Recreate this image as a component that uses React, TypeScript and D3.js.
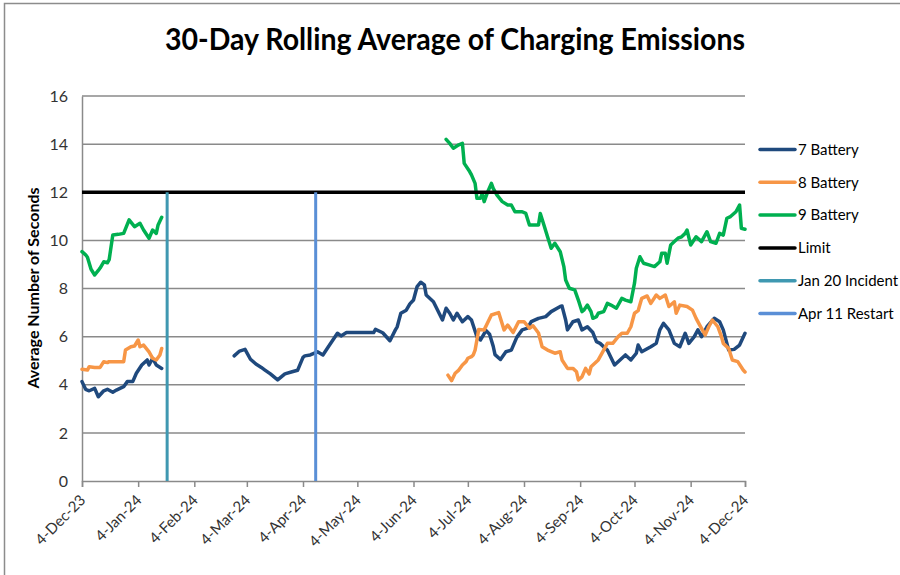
import { useEffect, useRef } from 'react';
import * as d3 from 'd3';

type Pt = [string, number | null];

// x-axis tick labels (the 4th of each month)
const xTickLabels = [
	'4-Dec-23', '4-Jan-24', '4-Feb-24', '4-Mar-24', '4-Apr-24', '4-May-24', '4-Jun-24',
	'4-Jul-24', '4-Aug-24', '4-Sep-24', '4-Oct-24', '4-Nov-24', '4-Dec-24',
];
const yTicks = [0, 2, 4, 6, 8, 10, 12, 14, 16];

const battery7: Pt[] = [
	['2023-12-04', 4.13], ['2023-12-06', 3.81], ['2023-12-08', 3.75], ['2023-12-11', 3.85],
	['2023-12-13', 3.5], ['2023-12-16', 3.75], ['2023-12-18', 3.81], ['2023-12-21', 3.69],
	['2023-12-23', 3.78], ['2023-12-27', 3.92], ['2023-12-29', 4.13], ['2024-01-01', 4.13],
	['2024-01-03', 4.48], ['2024-01-06', 4.82], ['2024-01-09', 5.03], ['2024-01-10', 4.82],
	['2024-01-12', 5.1], ['2024-01-14', 4.82], ['2024-01-17', 4.68],
	['2024-01-18', null],
	['2024-02-26', 5.2], ['2024-02-29', 5.4], ['2024-03-03', 5.47], ['2024-03-06', 5.06],
	['2024-03-09', 4.86], ['2024-03-12', 4.72], ['2024-03-14', 4.61], ['2024-03-17', 4.45],
	['2024-03-21', 4.2], ['2024-03-25', 4.45], ['2024-03-29', 4.54], ['2024-04-01', 4.6],
	['2024-04-04', 5.14], ['2024-04-05', 5.2], ['2024-04-08', 5.24], ['2024-04-12', 5.37],
	['2024-04-15', 5.24], ['2024-04-18', 5.58], ['2024-04-23', 6.14], ['2024-04-25', 6.03],
	['2024-04-28', 6.17], ['2024-05-13', 6.17], ['2024-05-14', 6.3], ['2024-05-18', 6.16],
	['2024-05-22', 5.83], ['2024-05-25', 6.28], ['2024-05-26', 6.41], ['2024-05-28', 6.97],
	['2024-05-31', 7.1], ['2024-06-02', 7.36], ['2024-06-04', 7.52], ['2024-06-06', 8.08],
	['2024-06-08', 8.26], ['2024-06-10', 8.15], ['2024-06-11', 7.73], ['2024-06-15', 7.45],
	['2024-06-20', 6.69], ['2024-06-22', 7.18], ['2024-06-24', 6.97], ['2024-06-26', 6.69],
	['2024-06-28', 6.97], ['2024-07-01', 6.62], ['2024-07-04', 6.83], ['2024-07-06', 6.69],
	['2024-07-09', 6.0], ['2024-07-11', 5.86], ['2024-07-14', 6.25], ['2024-07-16', 6.1],
	['2024-07-18', 5.6], ['2024-07-19', 5.25], ['2024-07-22', 5.05], ['2024-07-25', 5.37],
	['2024-07-28', 5.44], ['2024-07-31', 5.97], ['2024-08-03', 6.28], ['2024-08-06', 6.35],
	['2024-08-08', 6.62], ['2024-08-12', 6.76], ['2024-08-16', 6.83], ['2024-08-19', 7.04],
	['2024-08-24', 7.25], ['2024-08-25', 7.27], ['2024-08-27', 6.69], ['2024-08-28', 6.28],
	['2024-08-31', 6.62], ['2024-09-03', 6.69], ['2024-09-05', 6.28], ['2024-09-08', 6.41],
	['2024-09-11', 6.17], ['2024-09-13', 5.79], ['2024-09-15', 5.72], ['2024-09-19', 5.44],
	['2024-09-23', 4.82], ['2024-09-26', 5.03], ['2024-09-29', 5.24], ['2024-10-02', 5.03],
	['2024-10-05', 5.31], ['2024-10-06', 5.65], ['2024-10-08', 5.37], ['2024-10-13', 5.58],
	['2024-10-16', 5.72], ['2024-10-18', 6.28], ['2024-10-20', 6.55], ['2024-10-23', 6.28],
	['2024-10-26', 5.72], ['2024-10-29', 5.58], ['2024-11-01', 6.14], ['2024-11-03', 5.72],
	['2024-11-06', 6.0], ['2024-11-08', 6.28], ['2024-11-10', 6.0], ['2024-11-13', 6.41],
	['2024-11-17', 6.76], ['2024-11-20', 6.62], ['2024-11-22', 6.28], ['2024-11-25', 5.44],
	['2024-11-28', 5.47], ['2024-12-01', 5.65], ['2024-12-04', 6.14],
];

const battery8: Pt[] = [
	['2023-12-04', 4.64], ['2023-12-07', 4.61], ['2023-12-08', 4.75], ['2023-12-11', 4.72],
	['2023-12-14', 4.72], ['2023-12-16', 4.96], ['2023-12-18', 4.92], ['2023-12-19', 4.96],
	['2023-12-27', 4.96], ['2023-12-28', 5.44], ['2023-12-31', 5.58], ['2024-01-02', 5.61],
	['2024-01-04', 5.86], ['2024-01-05', 5.58], ['2024-01-07', 5.65], ['2024-01-10', 5.37],
	['2024-01-12', 5.1], ['2024-01-14', 5.03], ['2024-01-16', 5.24], ['2024-01-17', 5.51],
	['2024-01-18', null],
	['2024-06-23', 4.4], ['2024-06-25', 4.17], ['2024-06-27', 4.48], ['2024-06-29', 4.61],
	['2024-07-01', 4.82], ['2024-07-03', 4.96], ['2024-07-04', 5.1], ['2024-07-06', 5.17],
	['2024-07-07', 5.24], ['2024-07-08', 5.44], ['2024-07-09', 5.86], ['2024-07-10', 6.3],
	['2024-07-13', 6.28], ['2024-07-17', 6.9], ['2024-07-21', 7.0], ['2024-07-24', 6.28],
	['2024-07-26', 6.48], ['2024-07-29', 6.17], ['2024-08-01', 6.62], ['2024-08-04', 6.62],
	['2024-08-07', 6.35], ['2024-08-09', 6.45], ['2024-08-12', 6.15], ['2024-08-14', 5.58],
	['2024-08-17', 5.44], ['2024-08-21', 5.31], ['2024-08-24', 5.37], ['2024-08-25', 5.03],
	['2024-08-28', 4.68], ['2024-08-31', 4.68], ['2024-09-02', 4.54], ['2024-09-03', 4.2],
	['2024-09-05', 4.33], ['2024-09-07', 4.68], ['2024-09-09', 4.45], ['2024-09-10', 4.75],
	['2024-09-14', 5.03], ['2024-09-17', 5.44], ['2024-09-19', 5.72], ['2024-09-22', 5.72],
	['2024-09-25', 6.0], ['2024-09-27', 6.14], ['2024-09-30', 6.14], ['2024-10-02', 6.41],
	['2024-10-04', 6.97], ['2024-10-06', 7.08], ['2024-10-08', 7.59], ['2024-10-11', 7.69],
	['2024-10-13', 7.38], ['2024-10-16', 7.73], ['2024-10-18', 7.59], ['2024-10-21', 7.73],
	['2024-10-23', 7.25], ['2024-10-26', 7.45], ['2024-10-27', 6.97], ['2024-10-29', 7.31],
	['2024-11-02', 7.25], ['2024-11-05', 7.1], ['2024-11-07', 6.76], ['2024-11-09', 6.48],
	['2024-11-12', 6.07], ['2024-11-14', 6.41], ['2024-11-16', 6.69], ['2024-11-19', 6.41],
	['2024-11-21', 6.0], ['2024-11-22', 5.72], ['2024-11-25', 5.51], ['2024-11-27', 5.03],
	['2024-11-30', 4.96], ['2024-12-03', 4.61], ['2024-12-04', 4.53],
];

const battery9: Pt[] = [
	['2023-12-04', 9.53], ['2023-12-06', 9.4], ['2023-12-07', 9.3], ['2023-12-09', 8.8],
	['2023-12-11', 8.56], ['2023-12-13', 8.75], ['2023-12-14', 8.85], ['2023-12-16', 9.11],
	['2023-12-18', 9.07], ['2023-12-19', 9.2], ['2023-12-21', 10.22], ['2023-12-24', 10.25],
	['2023-12-27', 10.29], ['2023-12-30', 10.85], ['2024-01-02', 10.57], ['2024-01-05', 10.71],
	['2024-01-07', 10.43], ['2024-01-10', 10.09], ['2024-01-12', 10.43], ['2024-01-14', 10.29],
	['2024-01-15', 10.64], ['2024-01-17', 10.96],
	['2024-01-18', null],
	['2024-06-22', 14.2], ['2024-06-24', 14.03], ['2024-06-26', 13.83], ['2024-06-29', 13.97],
	['2024-07-01', 14.03], ['2024-07-02', 13.2], ['2024-07-05', 12.86], ['2024-07-06', 12.72],
	['2024-07-08', 12.37], ['2024-07-09', 11.75], ['2024-07-11', 11.75], ['2024-07-12', 11.96],
	['2024-07-13', 11.61], ['2024-07-15', 12.02], ['2024-07-17', 12.37], ['2024-07-18', 12.16],
	['2024-07-20', 11.89], ['2024-07-23', 11.61], ['2024-07-26', 11.47], ['2024-07-28', 11.47],
	['2024-07-30', 11.19], ['2024-08-02', 11.19], ['2024-08-03', 11.19], ['2024-08-05', 11.12],
	['2024-08-07', 10.64], ['2024-08-12', 10.64], ['2024-08-13', 11.12], ['2024-08-15', 10.64],
	['2024-08-17', 10.15], ['2024-08-19', 9.67], ['2024-08-21', 9.88], ['2024-08-24', 9.53],
	['2024-08-26', 8.91], ['2024-08-27', 8.35], ['2024-08-29', 8.01], ['2024-09-01', 7.94],
	['2024-09-03', 7.52], ['2024-09-05', 7.04], ['2024-09-06', 7.1], ['2024-09-08', 7.31],
	['2024-09-10', 7.04], ['2024-09-11', 6.76], ['2024-09-13', 6.83], ['2024-09-14', 6.97],
	['2024-09-17', 7.04], ['2024-09-19', 7.38], ['2024-09-21', 7.31], ['2024-09-24', 7.18],
	['2024-09-27', 7.59], ['2024-09-29', 7.52], ['2024-10-02', 7.45], ['2024-10-04', 8.22],
	['2024-10-05', 8.84], ['2024-10-07', 9.32], ['2024-10-09', 9.05], ['2024-10-12', 8.98],
	['2024-10-15', 8.91], ['2024-10-18', 9.11], ['2024-10-19', 9.46], ['2024-10-21', 9.46],
	['2024-10-22', 9.05], ['2024-10-24', 9.81], ['2024-10-26', 9.95], ['2024-10-28', 10.09],
	['2024-10-30', 10.15], ['2024-11-01', 10.29], ['2024-11-02', 10.43], ['2024-11-04', 9.81],
	['2024-11-07', 10.15], ['2024-11-10', 9.95], ['2024-11-13', 10.36], ['2024-11-15', 9.95],
	['2024-11-18', 9.88], ['2024-11-20', 10.29], ['2024-11-22', 10.22], ['2024-11-24', 10.92],
	['2024-11-26', 10.99], ['2024-11-29', 11.19], ['2024-12-01', 11.47], ['2024-12-02', 10.5],
	['2024-12-04', 10.46],
];

const limit: Pt[] = [['2023-12-04', 12], ['2024-12-04', 12]];
const jan20Incident: Pt[] = [['2024-01-20', 0], ['2024-01-20', 12]];
const apr11Restart: Pt[] = [['2024-04-11', 0], ['2024-04-11', 12]];

const seriesNames = ['7 Battery', '8 Battery', '9 Battery', 'Limit', 'Jan 20 Incident', 'Apr 11 Restart'];
const seriesData = [battery7, battery8, battery9, limit, jan20Incident, apr11Restart];
const seriesColors = ['#1F497D', '#F79646', '#00B050', '#000000', '#3F98B1', '#5A8FD6'];
const seriesWidths = [3.5, 3.5, 3.5, 3.5, 3, 3];

const App = () => {
	const svgRef = useRef<SVGSVGElement>(null);
	const width = 900;
	const height = 575;

	useEffect(() => {
		if (!svgRef.current) return;
		const svg = d3.select(svgRef.current);
		svg.selectAll('*').remove();

		const font = 'Lato, "Liberation Sans", Arial, sans-serif';
		const parseIso = d3.timeParse('%Y-%m-%d');
		const parseTick = d3.timeParse('%d-%b-%y');

		const x = d3
			.scaleTime()
			.domain([parseIso('2023-12-04')!, parseIso('2024-12-04')!])
			.range([82, 745]);
		const y = d3.scaleLinear().domain([0, 16]).range([481, 96]);

		// outer chart border
		svg.append('rect')
			.attr('x', 4.5)
			.attr('y', 3.5)
			.attr('width', 920)
			.attr('height', 600)
			.attr('fill', 'white')
			.attr('stroke', '#8c8c8c')
			.attr('stroke-width', 1.5);

		svg.append('text')
			.text('30-Day Rolling Average of Charging Emissions')
			.attr('x', 455)
			.attr('y', 50)
			.attr('text-anchor', 'middle')
			.attr('textLength', 580)
			.attr('lengthAdjust', 'spacingAndGlyphs')
			.style('font-family', font)
			.style('font-weight', 'bold')
			.style('font-size', '30px')
			.style('fill', '#000');

		// gridlines
		svg.append('g')
			.selectAll('line')
			.data(yTicks.filter((t) => t > 0))
			.join('line')
			.attr('x1', 82)
			.attr('x2', 745)
			.attr('y1', (d) => y(d))
			.attr('y2', (d) => y(d))
			.attr('stroke', '#8a8a8a')
			.attr('stroke-width', 1.5);

		// y axis
		const yAxis = svg
			.append('g')
			.attr('transform', 'translate(82,0)')
			.call(d3.axisLeft(y).tickValues(yTicks).tickSize(0).tickPadding(14));
		yAxis.select('.domain').attr('stroke', '#8a8a8a').attr('stroke-width', 1.5);
		yAxis.selectAll('text')
			.style('font-family', font)
			.style('font-size', '16px')
			.style('fill', '#333');

		// x axis
		const tickDates = xTickLabels.map((s) => parseTick(s)!);
		const xAxis = svg
			.append('g')
			.attr('transform', 'translate(0,481)')
			.call(
				d3
					.axisBottom(x)
					.tickValues(tickDates)
					.tickSize(6)
					.tickFormat((_, i) => xTickLabels[i])
			);
		xAxis.select('.domain').attr('stroke', '#8a8a8a').attr('stroke-width', 1.5);
		xAxis.selectAll('.tick line').attr('stroke', '#8a8a8a').attr('stroke-width', 1.5);
		xAxis.selectAll('text')
			.attr('text-anchor', 'end')
			.attr('dy', null)
			.attr('y', 0)
			.attr('transform', 'translate(4,20) rotate(-45)')
			.style('font-family', font)
			.style('font-size', '15px')
			.style('fill', '#333');

		svg.append('text')
			.text('Average Number of Seconds')
			.attr('transform', 'translate(39,288) rotate(-90)')
			.attr('text-anchor', 'middle')
			.style('font-family', font)
			.style('font-weight', 'bold')
			.style('font-size', '16px')
			.style('fill', '#000');

		const line = d3
			.line<Pt>()
			.defined((d) => d[1] !== null)
			.x((d) => x(parseIso(d[0])!))
			.y((d) => y(d[1] as number));

		seriesData.forEach((data, i) => {
			svg.append('path')
				.datum(data)
				.attr('d', line)
				.attr('fill', 'none')
				.attr('stroke', seriesColors[i])
				.attr('stroke-width', seriesWidths[i])
				.attr('stroke-linejoin', 'round')
				.attr('stroke-linecap', i >= 3 ? 'butt' : 'round');
		});

		// legend
		const legend = svg
			.append('g')
			.selectAll('g')
			.data(seriesNames)
			.join('g')
			.attr('transform', (_, i) => `translate(760,${149.5 + i * 32.8})`);
		legend.append('line')
			.attr('x1', 0)
			.attr('x2', 35)
			.attr('stroke', (_, i) => seriesColors[i])
			.attr('stroke-width', 3.5)
			.attr('stroke-linecap', 'round');
		legend.append('text')
			.text((d) => d)
			.attr('x', 38)
			.attr('dy', '0.35em')
			.style('font-family', font)
			.style('font-size', '15px')
			.style('fill', '#000');
	}, []);

	return (
		<svg
			ref={svgRef}
			width={width}
			height={height}
			style={{ position: 'absolute', left: 0, top: 0, background: '#fff' }}
		></svg>
	);
};

export default App;
